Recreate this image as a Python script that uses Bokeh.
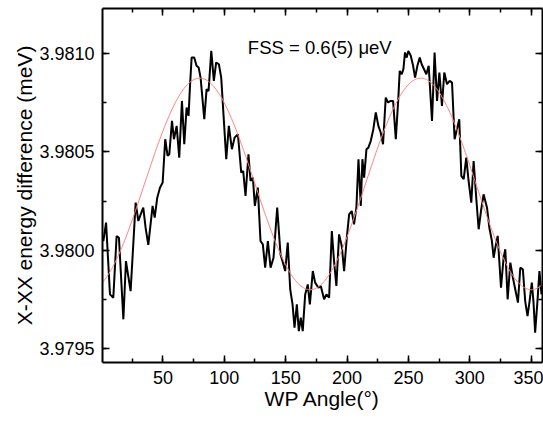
import numpy as np
from bokeh.plotting import figure
from bokeh.models import (Range1d, LinearAxis, SingleIntervalTicker, PrintfTickFormatter,
                          Label, CustomLabelingPolicy, CustomJSTickFormatter)
from bokeh.embed import file_html
from bokeh.resources import INLINE

# measured data: waveplate angle (deg) vs X-XX energy difference (meV)
angle_deg = [
    1.5, 3.7, 6.9, 9.6, 12.3, 14.2, 17.8, 19.9, 23.7, 27.8,
    30.0, 31.9, 34.0, 35.9, 38.1, 41.6, 43.3, 45.4, 47.6, 49.8,
    51.9, 53.8, 55.2, 57.4, 59.0, 61.2, 63.3, 65.5, 67.4, 69.3,
    70.9, 72.0, 73.4, 75.5, 77.4, 79.1, 80.7, 83.7, 85.6, 87.2,
    89.4,
    91.5, 93.4, 95.6, 97.5, 101.6, 103.7, 106.2, 108.4, 111.1, 113.8,
    115.4, 117.3, 119.7, 121.4, 123.3, 124.9, 127.3, 129.5, 131.4, 133.3,
    135.5, 137.7, 140.1, 143.1, 145.8, 147.4, 149.6, 151.7, 153.7, 155.6,
    157.2, 159.1, 160.7, 162.3, 163.9, 165.9, 168.0, 169.7, 172.1, 174.0,
    176.7, 178.6, 181.3, 183.2, 185.4, 187.6, 189.4, 191.3, 193.5, 195.7,
    197.6, 199.8, 201.7, 203.8, 205.7, 207.6, 209.3, 211.2, 212.5, 213.9,
    215.8, 217.4, 219.3, 221.4, 223.4, 225.5, 227.4, 229.3, 231.5, 233.4,
    235.5, 237.5, 239.7, 241.8, 242.9, 244.5, 245.9, 247.2, 248.6, 249.9,
    251.9, 253.8, 255.4, 257.3, 259.2, 260.8,
    264.6, 266.5, 269.2, 271.3, 273.3, 275.2, 277.3, 279.2, 281.4, 283.6,
    285.5, 287.6, 289.5, 291.4, 293.1, 295.0, 297.1, 299.0, 301.2, 303.1,
    305.2, 307.2, 309.1, 311.2, 314.0, 315.9, 318.0, 319.4, 320.8, 322.7,
    325.4, 327.5, 328.9, 330.8, 333.0, 335.1, 337.0, 339.2, 341.1, 343.2,
    345.1, 347.0, 348.7, 350.5, 351.9, 353.2, 355.1, 356.7, 358.4,
]

energy_diff_meV = [
    3.980046, 3.980140, 3.979774, 3.979757, 3.980072, 3.980063, 3.979647, 3.979944, 3.979791, 3.980242,
    3.980148, 3.980182, 3.980216, 3.980114, 3.980026, 3.980225, 3.980165, 3.980267, 3.980318, 3.980344,
    3.980565, 3.980480, 3.980488, 3.980658, 3.980565, 3.980633, 3.980471, 3.980760, 3.980539, 3.980726,
    3.980684, 3.980828, 3.980981, 3.980981, 3.980939, 3.980930, 3.980879, 3.980667, 3.980820, 3.980811,
    3.981015,
    3.980862, 3.980956, 3.980947, 3.980879, 3.980463, 3.980633, 3.980514, 3.980573, 3.980590, 3.980395,
    3.980403, 3.980276, 3.980488, 3.980352, 3.980369, 3.980225, 3.980318, 3.980046, 3.980029, 3.979910,
    3.980046, 3.979910, 3.979961, 3.980216, 3.979978, 3.979944, 3.979893, 3.980038, 3.979800, 3.979723,
    3.979604, 3.979723, 3.979587, 3.979655, 3.979587, 3.979774, 3.979825, 3.979723, 3.979893, 3.979834,
    3.979808, 3.979817, 3.979749, 3.979774, 3.979757, 3.980097, 3.979944, 3.979817, 3.980080, 3.980021,
    3.979893, 3.980063, 3.980182, 3.980199, 3.980131, 3.980216, 3.980463, 3.980225, 3.980463, 3.980369,
    3.980514, 3.980522, 3.980556, 3.980616, 3.980701, 3.980633, 3.980599, 3.980539, 3.980777, 3.980752,
    3.980760, 3.980760, 3.980565, 3.980777, 3.980913, 3.980896, 3.980922, 3.981007, 3.980981, 3.981015,
    3.980990, 3.980939, 3.980879, 3.980939, 3.980981, 3.980947,
    3.980896, 3.980939, 3.980658, 3.981007, 3.980760, 3.980905, 3.980735, 3.980905, 3.980845, 3.980862,
    3.980854, 3.980565, 3.980616, 3.980667, 3.980378, 3.980361, 3.980471, 3.980352, 3.980242, 3.980454,
    3.980267, 3.980106, 3.980199, 3.980284, 3.980216, 3.980114, 3.980046, 3.979961, 3.980012, 3.980072,
    3.979808, 3.979961, 3.980004, 3.979749, 3.979936, 3.979859, 3.979800, 3.979732, 3.979910, 3.979902,
    3.979740, 3.979664, 3.979740, 3.979834, 3.979732, 3.979579, 3.979740, 3.979893, 3.979774,
]

# sinusoidal fit parameters
fit_offset = 3.980337
fit_amplitude = 0.000539
fit_peak_angle = 80.0
fit_period = 180.0

annotation_text = "FSS = 0.6(5) \u03bceV"
x_title = "WP Angle(\u00b0)"
y_title = "X-XX energy difference (meV)"

fit_x = np.linspace(0.8, 359.2, 400)
fit_y = fit_offset + fit_amplitude * np.cos(2 * np.pi * (fit_x - fit_peak_angle) / fit_period)

FONT = "Liberation Sans"

p = figure(width=543, height=421, output_backend="svg", toolbar_location=None,
           x_range=Range1d(0.8, 359.2), y_range=Range1d(3.979427, 3.981231),
           min_border_left=102, min_border_right=1, min_border_top=8, min_border_bottom=59,
           x_axis_label=x_title, y_axis_label=y_title)
p.grid.visible = False
p.outline_line_color = None
p.background_fill_color = "white"
p.border_fill_color = "white"

p.line(angle_deg, energy_diff_meV, line_color="black", line_width=2)
p.line(fit_x, fit_y, line_color="#ff8080", line_width=1)

bottom_axis = p.below[0]
left_axis = p.left[0]

bottom_axis.ticker = SingleIntervalTicker(interval=50, num_minor_ticks=2)
left_axis.ticker = SingleIntervalTicker(interval=0.0005, num_minor_ticks=2)
left_axis.formatter = PrintfTickFormatter(format="%.4f")

hide_all = "for (const i of indices) { indices.unset(i) }\nreturn indices"
blank = CustomJSTickFormatter(code="return ''")
top_axis = LinearAxis(ticker=SingleIntervalTicker(interval=50, num_minor_ticks=2),
                      formatter=blank,
                      major_label_policy=CustomLabelingPolicy(code=hide_all),
                      major_label_text_font_size="1px", major_label_standoff=0)
right_axis = LinearAxis(ticker=SingleIntervalTicker(interval=0.0005, num_minor_ticks=2),
                        formatter=CustomJSTickFormatter(code="return ''"),
                        major_label_policy=CustomLabelingPolicy(code=hide_all),
                        major_label_text_font_size="1px", major_label_standoff=0)
p.add_layout(top_axis, "above")
p.add_layout(right_axis, "right")

for ax in [bottom_axis, left_axis, top_axis, right_axis]:
    ax.axis_line_width = 2
    ax.axis_line_color = "black"
    ax.major_tick_in = 7
    ax.major_tick_out = 0
    ax.minor_tick_in = 4
    ax.minor_tick_out = 0
    ax.major_tick_line_width = 1.5
    ax.minor_tick_line_width = 1.5
    ax.major_tick_line_color = "black"
    ax.minor_tick_line_color = "black"

for ax in [bottom_axis, left_axis]:
    ax.major_label_text_font = FONT
    ax.major_label_text_font_size = "18px"
    ax.major_label_text_color = "black"
    ax.major_label_standoff = 8
    ax.axis_label_text_font = FONT
    ax.axis_label_text_font_size = "21px"
    ax.axis_label_text_font_style = "normal"
    ax.axis_label_text_color = "black"
    ax.axis_label_standoff = 0

p.add_layout(Label(x=119.2, y=3.981034, text=annotation_text, text_font=FONT,
                   text_font_size="18.5px", text_color="black",
                   text_baseline="alphabetic", text_align="left"))

open("out.html", "w").write(file_html(p, INLINE))
